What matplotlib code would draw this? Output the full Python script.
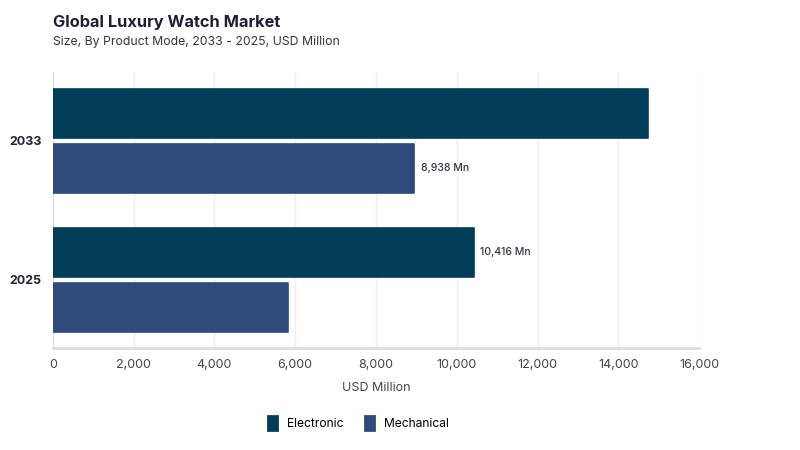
import matplotlib.pyplot as plt
import numpy as np
from matplotlib.patches import Patch

plt.rcParams['font.family'] = ['Inter', 'DejaVu Sans']

years = ['2025', '2033']
electronic = [10416, 14740]
mechanical = [5820, 8938]
# which bars carry a value label (as in the reference)
elec_labels = [True, False]
mech_labels = [False, True]

c_elec = '#023e5a'
c_mech = '#2f4b7c'

fig = plt.figure(figsize=(8, 4.5), dpi=100)
ax = fig.add_axes([0.066, 0.227, 0.808, 0.613])

y = np.arange(len(years))
h = 0.35
off = 0.198
b1 = ax.barh(y + off, electronic, height=h, color=c_elec, edgecolor=c_elec,
             linewidth=1.2, joinstyle='round', label='Electronic', zorder=3)
b2 = ax.barh(y - off, mechanical, height=h, color=c_mech, edgecolor=c_mech,
             linewidth=1.2, joinstyle='round', label='Mechanical', zorder=3)

for bar, v, show in zip(b1, electronic, elec_labels):
    if show:
        ax.text(v + 170, bar.get_y() + bar.get_height() / 2, f'{v:,} Mn',
                va='center', ha='left', fontsize=7.5, fontweight='medium', color='#333344')
for bar, v, show in zip(b2, mechanical, mech_labels):
    if show:
        ax.text(v + 170, bar.get_y() + bar.get_height() / 2, f'{v:,} Mn',
                va='center', ha='left', fontsize=7.5, fontweight='medium', color='#333344')

ax.set_xlim(0, 16000)
ax.set_ylim(-0.49, 1.497)
ax.set_xticks(np.arange(0, 16001, 2000))
ax.set_xticklabels([f'{t:,}' for t in range(0, 16001, 2000)], fontsize=9, color='#444444')
ax.set_yticks(y)
ax.set_yticklabels(years, fontsize=9, fontweight='bold', color='#222233')
ax.tick_params(axis='both', length=0)
ax.tick_params(axis='x', pad=8)
ax.tick_params(axis='y', pad=8)
ax.grid(True, axis='x', color='#eeeeee', linewidth=1, zorder=0)
for s in ['top', 'right']:
    ax.spines[s].set_visible(False)
ax.spines['left'].set_color('#dddddd')
ax.spines['bottom'].set_color('#dddddd')
ax.spines['bottom'].set_linewidth(2)
ax.set_xlabel('USD Million', fontsize=9, color='#444444', labelpad=8)

fig.text(0.066, 0.951, 'Global Luxury Watch Market', fontsize=11.8, fontweight='bold',
         color='#1f1f33', ha='left', va='center')
fig.text(0.066, 0.907, 'Size, By Product Mode, 2033 - 2025, USD Million', fontsize=8.8,
         color='#333344', ha='left', va='center')

handles = [Patch(facecolor=c_elec, edgecolor=c_elec, linewidth=2, joinstyle='round'),
           Patch(facecolor=c_mech, edgecolor=c_mech, linewidth=2, joinstyle='round')]
fig.legend(handles, ['Electronic', 'Mechanical'], loc='center', bbox_to_anchor=(0.448, 0.06),
           ncol=2, frameon=False, fontsize=8.7, handlelength=0.75, handleheight=1.4,
           handletextpad=0.8, columnspacing=1.8)

fig.savefig('out.png', dpi=100)
